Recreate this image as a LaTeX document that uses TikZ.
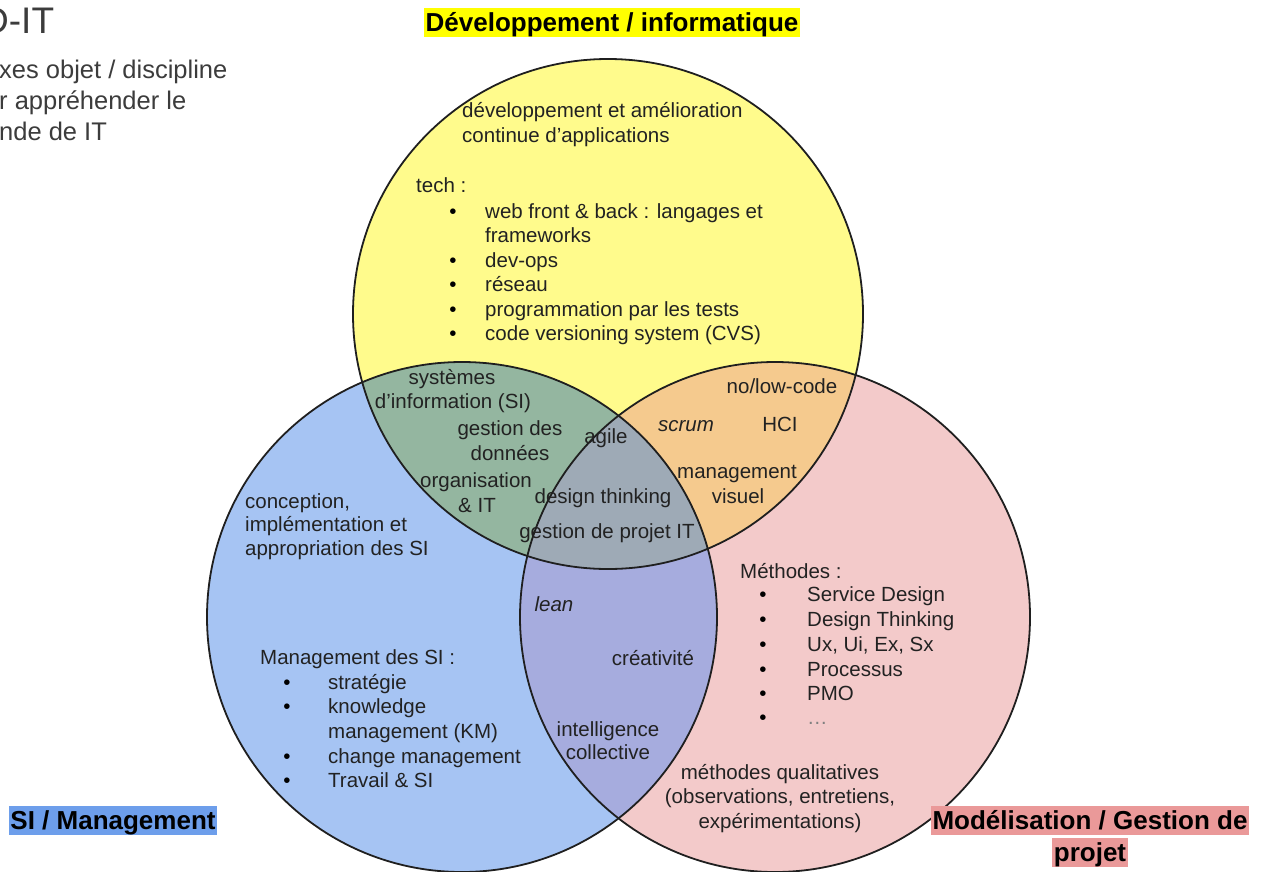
\documentclass[tikz,border=0pt]{standalone}
\usepackage{fontspec}
\setmainfont{Liberation Sans}
\definecolor{ink}{RGB}{34,34,34}
\definecolor{cY}{RGB}{255,251,140}
\definecolor{cB}{RGB}{166,196,243}
\definecolor{cP}{RGB}{243,202,202}
\definecolor{cYB}{RGB}{148,182,160}
\definecolor{cYP}{RGB}{245,202,142}
\definecolor{cBP}{RGB}{166,172,222}
\definecolor{cYBP}{RGB}{158,170,182}
\definecolor{hY}{RGB}{255,255,0}
\definecolor{hB}{RGB}{109,158,235}
\definecolor{hP}{RGB}{234,153,153}
\definecolor{gtxt}{RGB}{60,60,60}
\tikzset{
  txt/.style={font=\fontsize{20.5}{24}\selectfont, text=ink, inner sep=0pt, anchor=base west},
  txtc/.style={txt, anchor=base},
  bul/.style={txtc, text=black},
  ttl/.style={font=\fontsize{26}{31}\selectfont\bfseries, text=black, inner xsep=1.5pt, inner ysep=0pt, text height=23pt, text depth=6pt, anchor=base},
  ring/.style={draw=black!88, line width=1.8pt},
  side/.style={font=\fontsize{25.5}{31}\selectfont, text=gtxt, inner sep=0pt, anchor=base west},
}
\begin{document}
\begin{tikzpicture}[x=1pt,y=-1pt]
\useasboundingbox[fill=white] (0,0) rectangle (1266,871);
\coordinate (cy) at (608,314);
\coordinate (cb) at (462,617);
\coordinate (cp) at (775,617);
% fills
\fill[cY] (cy) circle (255pt);
\fill[cB] (cb) circle (255pt);
\fill[cP] (cp) circle (255pt);
\begin{scope}
  \clip (cy) circle (255pt);
  \fill[cYB] (cb) circle (255pt);
  \fill[cYP] (cp) circle (255pt);
\end{scope}
\begin{scope}
  \clip (cb) circle (255pt);
  \fill[cBP] (cp) circle (255pt);
\end{scope}
\begin{scope}
  \clip (cy) circle (255pt);
  \clip (cb) circle (255pt);
  \fill[cYBP] (cp) circle (255pt);
\end{scope}
\draw[ring] (cy) circle (255pt);
\draw[ring] (cb) circle (255pt);
\draw[ring] (cp) circle (255pt);

% top-left text
\node[font=\fontsize{37}{44}\selectfont, text=gtxt, inner sep=0pt, anchor=base west] (h0) at (-18,33) {D-IT};
\node[side] (h1) at (-1,78) {xes objet / discipline};
\node[side] (h2) at (-1,109) {r appréhender le};
\node[side] (h3) at (-1,140) {nde de IT};

% titles
\node[ttl, fill=hY] (tY) at (612,31) {Développement / informatique};
\node[ttl, fill=hB] (tB) at (113,829) {SI / Management};
\node[ttl, fill=hP] (tP1) at (1090,829) {Modélisation / Gestion de};
\node[ttl, fill=hP] (tP2) at (1090,861) {projet};

% yellow
\node[txt] (y1) at (462,117) {développement et amélioration};
\node[txt] (y2) at (462,142) {continue d’applications};
\node[txt] (y3) at (416,192) {tech :};
\node[bul] (yb1) at (453,218) {•};
\node[txt] (y4) at (485,218) {web front \& back : langages et};
\node[txt] (y5) at (485,242.5) {frameworks};
\node[bul] (yb2) at (453,267) {•};
\node[txt] (y6) at (485,267) {dev-ops};
\node[bul] (yb3) at (453,291.5) {•};
\node[txt] (y7) at (485,291.5) {réseau};
\node[bul] (yb4) at (453,316) {•};
\node[txt] (y8) at (485,316) {programmation par les tests};
\node[bul] (yb5) at (453,340.5) {•};
\node[txt] (y9) at (485,340.5) {code versioning system (CVS)};

% yellow-blue
\node[txtc] (g1) at (452,384) {systèmes};
\node[txtc] (g2) at (453,408) {d’information (SI)};
\node[txtc] (g3) at (510,435) {gestion des};
\node[txtc] (g4) at (510,460) {données};
\node[txtc] (g5) at (476,487) {organisation};
\node[txtc] (g6) at (477,512) {\& IT};

% centre
\node[txtc] (c1) at (606,443) {agile};
\node[txtc] (c2) at (603,503) {design thinking};
\node[txtc] (c3) at (607,538) {gestion de projet IT};

% yellow-pink
\node[txtc] (o1) at (782,393) {no/low-code};
\node[txtc, font=\fontsize{20.5}{24}\selectfont\itshape] (o2) at (686,431) {scrum};
\node[txtc] (o3) at (780,431) {HCI};
\node[txtc] (o4) at (737,478) {management};
\node[txtc] (o5) at (738,503) {visuel};

% blue
\node[txt] (b1) at (245,508) {conception,};
\node[txt] (b2) at (245,531) {implémentation et};
\node[txt] (b3) at (245,555) {appropriation des SI};
\node[txt] (b4) at (260,664) {Management des SI :};
\node[bul] (bb1) at (287,689) {•};
\node[txt] (b5) at (328,689) {stratégie};
\node[bul] (bb2) at (287,713) {•};
\node[txt] (b6) at (328,713) {knowledge};
\node[txt] (b7) at (328,738) {management (KM)};
\node[bul] (bb3) at (287,763) {•};
\node[txt] (b8) at (328,763) {change management};
\node[bul] (bb4) at (287,787) {•};
\node[txt] (b9) at (328,787) {Travail \& SI};

% blue-pink
\node[txtc, font=\fontsize{20.5}{24}\selectfont\itshape] (v1) at (554,611) {lean};
\node[txtc] (v2) at (653,665) {créativité};
\node[txtc] (v3) at (608,736) {intelligence};
\node[txtc] (v4) at (608,759) {collective};

% pink
\node[txt] (p1) at (740,578) {Méthodes :};
\node[bul] (pb1) at (763,601) {•};
\node[txt] (p2) at (807,601) {Service Design};
\node[bul] (pb2) at (763,626) {•};
\node[txt] (p3) at (807,626) {Design Thinking};
\node[bul] (pb3) at (763,651) {•};
\node[txt] (p4) at (807,651) {Ux, Ui, Ex, Sx};
\node[bul] (pb4) at (763,676) {•};
\node[txt] (p5) at (807,676) {Processus};
\node[bul] (pb5) at (763,700) {•};
\node[txt] (p6) at (807,700) {PMO};
\node[bul] (pb6) at (763,724) {•};
\node[txt, text=gray] (p7) at (807,724) {…};
\node[txtc] (q1) at (780,779) {méthodes qualitatives};
\node[txtc] (q2) at (780,803) {(observations, entretiens,};
\node[txtc] (q3) at (780,828) {expérimentations)};
\end{tikzpicture}
\end{document}
